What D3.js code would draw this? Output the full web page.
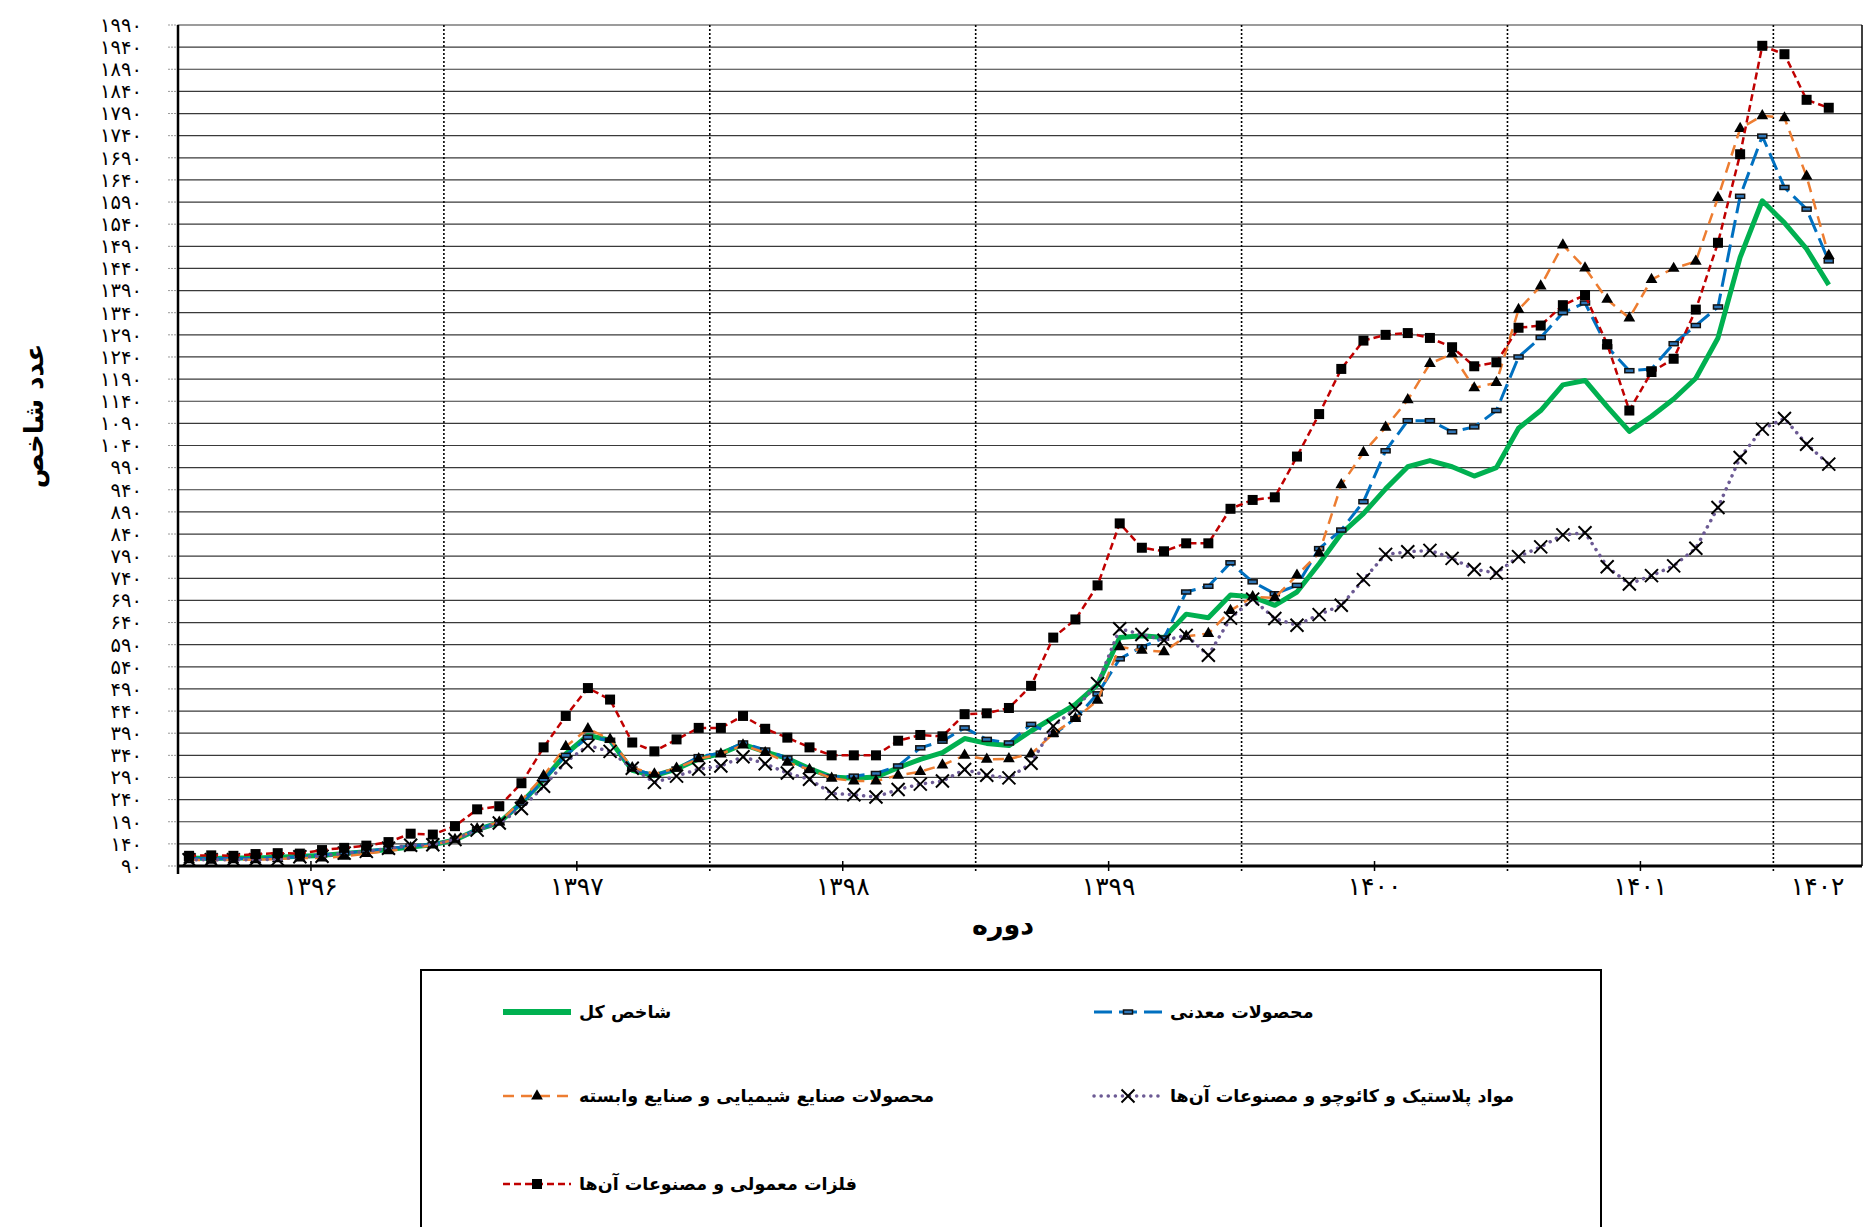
<!DOCTYPE html>
<html>
<head>
<meta charset="utf-8">
<script src="https://cdn.jsdelivr.net/npm/d3@7"></script>
<style>
  body { margin: 0; background: #fff; }
  svg { display: block; font-family: "DejaVu Sans", sans-serif; }
</style>
</head>
<body>
<div id="chart"></div>
<script>
// Categories: months per Persian year (last year only partly shown)
const years = ['۱۳۹۶', '۱۳۹۷', '۱۳۹۸', '۱۳۹۹', '۱۴۰۰', '۱۴۰۱', '۱۴۰۲'];
const monthsInYear = [12, 12, 12, 12, 12, 12, 4];

// Series values
const total = [
  108, 107, 108, 108, 110, 112, 114, 118, 122, 127, 133, 138,
  149, 172, 188, 233, 285, 343, 385, 374, 306, 294, 309, 332,
  344, 365, 348, 333, 310, 291, 288, 291, 312, 331, 346, 378,
  367, 362, 395, 425, 455, 500, 606, 610, 606, 659, 651, 702,
  698, 679, 709, 773, 841, 886, 942, 992, 1006, 992, 971, 990,
  1079, 1119, 1177, 1187, 1128, 1072, 1106, 1145, 1192, 1283, 1465, 1593,
  1543, 1484, 1403
];
const mineral = [
  107, 106, 107, 107, 109, 111, 115, 119, 124, 129, 135, 139,
  149, 173, 188, 232, 285, 340, 381, 374, 309, 296, 309, 337,
  345, 368, 352, 334, 306, 291, 293, 299, 316, 357, 372, 402,
  376, 368, 410, 387, 423, 479, 558, 585, 605, 709, 722, 775,
  732, 705, 724, 807, 849, 913, 1028, 1096, 1096, 1071, 1082, 1119,
  1240, 1284, 1340, 1362, 1263, 1209, 1213, 1270, 1311, 1353, 1603, 1739,
  1623, 1574, 1457
];
const chemical = [
  104, 103, 104, 104, 106, 108, 108, 112, 118, 124, 131, 137,
  150, 174, 189, 238, 294, 360, 400, 376, 312, 298, 311, 332,
  343, 363, 346, 324, 308, 288, 282, 282, 295, 303, 318, 340,
  331, 332, 343, 389, 423, 464, 585, 577, 574, 609, 615, 667,
  698, 696, 747, 797, 951, 1024, 1081, 1143, 1225, 1247, 1170, 1182,
  1347, 1400, 1493, 1441, 1370, 1328, 1415, 1440, 1456, 1600, 1756, 1785,
  1780, 1648, 1469
];
const plastic = [
  104, 104, 104, 104, 105, 111, 112, 119, 123, 130, 137, 138,
  150, 171, 187, 220, 270, 325, 362, 349, 311, 279, 293, 309,
  316, 337, 321, 300, 286, 254, 251, 246, 263, 275, 282, 308,
  295, 289, 322, 406, 445, 502, 626, 613, 600, 611, 566, 650,
  693, 649, 634, 658, 679, 737, 794, 800, 803, 785, 760, 752,
  789, 811, 838, 843, 766, 727, 746, 768, 808, 900, 1013, 1077,
  1101, 1043, 998
];
const metals = [
  113, 114, 113, 117, 119, 118, 126, 131, 136, 144, 163, 161,
  180, 218, 225, 277, 358, 429, 492, 466, 369, 349, 376, 402,
  402, 429, 400, 380, 358, 340, 340, 340, 373, 386, 383, 433,
  435, 447, 497, 606, 647, 724, 864, 809, 801, 819, 819, 897,
  917, 923, 1015, 1111, 1213, 1277, 1290, 1294, 1283, 1262, 1219, 1228,
  1306, 1311, 1357, 1380, 1269, 1119, 1206, 1236, 1347, 1498, 1698, 1943,
  1924, 1821, 1803
];

const seriesNames = [
  'شاخص کل',
  'محصولات معدنی',
  'محصولات صنایع شیمیایی و صنایع وابسته',
  'مواد پلاستیک و کائوچو و مصنوعات آن‌ها',
  'فلزات معمولی و مصنوعات آن‌ها'
];
const yTicks = d3.range(90, 1991, 50);

const categories = years.flatMap((y, i) => d3.range(monthsInYear[i]).map(m => `${y}-${m + 1}`));

const series = [
  { name: seriesNames[0], values: total, color: '#00b050', width: 5, dash: null, marker: null },
  { name: seriesNames[1], values: mineral, color: '#0070c0', width: 3, dash: '18,7', marker: 'bar' },
  { name: seriesNames[2], values: chemical, color: '#ed7d31', width: 2.5, dash: '11,7', marker: 'triangle' },
  { name: seriesNames[3], values: plastic, color: '#6c5a94', width: 3.5, dash: '0.1,7', cap: 'round', marker: 'x' },
  { name: seriesNames[4], values: metals, color: '#c00000', width: 2.5, dash: '7,4', marker: 'square' }
];

const toFa = s => String(s).replace(/\d/g, d => '۰۱۲۳۴۵۶۷۸۹'[d]);

const W = 1864, H = 1227;
const plot = { left: 178, right: 1862, top: 25, bottom: 866 };

const svg = d3.select('#chart').append('svg')
  .attr('width', W)
  .attr('height', H);

const x = d3.scaleBand().domain(categories).range([plot.left, plot.right]).padding(0);
const y = d3.scaleLinear().domain([90, 1990]).range([plot.bottom, plot.top]);
const cx = i => x(categories[i]) + x.bandwidth() / 2;

// horizontal grid
svg.append('g')
  .selectAll('line')
  .data(yTicks)
  .join('line')
  .attr('x1', plot.left).attr('x2', plot.right)
  .attr('y1', d => y(d)).attr('y2', d => y(d))
  .attr('stroke', '#3a3a3a')
  .attr('stroke-width', 1.2);

// little grey ticks left of axis
svg.append('g')
  .selectAll('line')
  .data(yTicks)
  .join('line')
  .attr('x1', plot.left - 10).attr('x2', plot.left)
  .attr('y1', d => y(d)).attr('y2', d => y(d))
  .attr('stroke', '#999')
  .attr('stroke-dasharray', '2,1');

// y labels
svg.append('g')
  .selectAll('text')
  .data(yTicks)
  .join('text')
  .attr('x', 142)
  .attr('y', d => y(d))
  .attr('dy', '0.35em')
  .attr('text-anchor', 'end')
  .attr('font-size', 19.5)
  .text(d => toFa(d));

// year boundaries (dotted) and year centre ticks
const yearStarts = [];
let acc = 0;
monthsInYear.forEach(n => { yearStarts.push(acc); acc += n; });

svg.append('g')
  .selectAll('line')
  .data(yearStarts.slice(1))
  .join('line')
  .attr('x1', d => x(categories[d])).attr('x2', d => x(categories[d]))
  .attr('y1', plot.top).attr('y2', plot.bottom + 7)
  .attr('stroke', '#000')
  .attr('stroke-width', 1.6)
  .attr('stroke-dasharray', '2,2');

const yearCentre = (i) => {
  const a = x(categories[yearStarts[i]]);
  const b = x(categories[yearStarts[i] + monthsInYear[i] - 1]) + x.bandwidth();
  return (a + b) / 2;
};

svg.append('g')
  .selectAll('line')
  .data(years.slice(0, 6))
  .join('line')
  .attr('x1', (d, i) => yearCentre(i)).attr('x2', (d, i) => yearCentre(i))
  .attr('y1', plot.bottom - 5).attr('y2', plot.bottom + 5)
  .attr('stroke', '#000')
  .attr('stroke-width', 1.5);

svg.append('g')
  .selectAll('text')
  .data(years)
  .join('text')
  .attr('x', (d, i) => yearCentre(i))
  .attr('y', 886)
  .attr('dy', '0.35em')
  .attr('text-anchor', 'middle')
  .attr('font-size', 25)
  .text(d => d);

// frame
svg.append('line')
  .attr('x1', plot.right).attr('x2', plot.right)
  .attr('y1', plot.top).attr('y2', plot.bottom)
  .attr('stroke', '#000').attr('stroke-width', 1.5);
svg.append('line')
  .attr('x1', plot.left).attr('x2', plot.left)
  .attr('y1', plot.top).attr('y2', plot.bottom + 8)
  .attr('stroke', '#000').attr('stroke-width', 2.5);
svg.append('line')
  .attr('x1', plot.left).attr('x2', plot.right)
  .attr('y1', plot.bottom).attr('y2', plot.bottom)
  .attr('stroke', '#000').attr('stroke-width', 3);

// axis titles
svg.append('text')
  .attr('transform', 'translate(34,416) rotate(-90)')
  .attr('dy', '0.35em')
  .attr('text-anchor', 'middle')
  .attr('font-size', 26)
  .attr('font-weight', 'bold')
  .text('عدد شاخص');

svg.append('text')
  .attr('x', 1003)
  .attr('y', 925)
  .attr('dy', '0.35em')
  .attr('text-anchor', 'middle')
  .attr('font-size', 27)
  .attr('font-weight', 'bold')
  .text('دوره');

// marker painter
function drawMarker(g, type, px, py) {
  if (type === 'square') {
    g.append('rect').attr('x', px - 5).attr('y', py - 5).attr('width', 10).attr('height', 10).attr('fill', '#000');
  } else if (type === 'triangle') {
    g.append('path').attr('d', d3.symbol(d3.symbolTriangle, 60)()).attr('transform', `translate(${px},${py})`).attr('fill', '#000');
  } else if (type === 'x') {
    g.append('path').attr('d', `M${px - 6.5},${py - 6.5}L${px + 6.5},${py + 6.5}M${px - 6.5},${py + 6.5}L${px + 6.5},${py - 6.5}`)
      .attr('stroke', '#000').attr('stroke-width', 2);
  } else if (type === 'bar') {
    g.append('rect').attr('x', px - 4.5).attr('y', py - 2).attr('width', 9).attr('height', 4)
      .attr('fill', '#2e75b6').attr('stroke', '#111').attr('stroke-width', 1.5);
  }
}

const line = d3.line().x((d, i) => cx(i)).y(d => y(d));

const lines = svg.append('g');
series.forEach(s => {
  const g = lines.append('g');
  g.append('path')
    .attr('d', line(s.values))
    .attr('fill', 'none')
    .attr('stroke', s.color)
    .attr('stroke-width', s.width)
    .attr('stroke-linecap', s.cap || 'butt')
    .attr('stroke-linejoin', 'round')
    .attr('stroke-dasharray', s.dash);
  if (s.marker) s.values.forEach((v, i) => drawMarker(g, s.marker, cx(i), y(v)));
});

// legend
const legend = svg.append('g');
legend.append('rect')
  .attr('x', 421).attr('y', 970)
  .attr('width', 1180).attr('height', 320)
  .attr('fill', 'none')
  .attr('stroke', '#000')
  .attr('stroke-width', 2);

const legendPos = [
  { x: 503, y: 1012 },
  { x: 1094, y: 1012 },
  { x: 503, y: 1096 },
  { x: 1094, y: 1096 },
  { x: 503, y: 1184 }
];

series.forEach((s, i) => {
  const p = legendPos[i];
  const g = legend.append('g');
  g.append('line')
    .attr('x1', p.x).attr('x2', p.x + 68)
    .attr('y1', p.y).attr('y2', p.y)
    .attr('stroke', s.color)
    .attr('stroke-width', s.marker ? s.width : 6)
    .attr('stroke-linecap', s.cap || 'butt')
    .attr('stroke-dasharray', s.dash);
  if (s.marker) drawMarker(g, s.marker, p.x + 34, p.y);
  g.append('text')
    .attr('x', p.x + 76)
    .attr('y', p.y)
    .attr('dy', '0.35em')
    .attr('font-size', 17.5)
    .attr('font-weight', 'bold')
    .text(s.name);
});
</script>
</body>
</html>
